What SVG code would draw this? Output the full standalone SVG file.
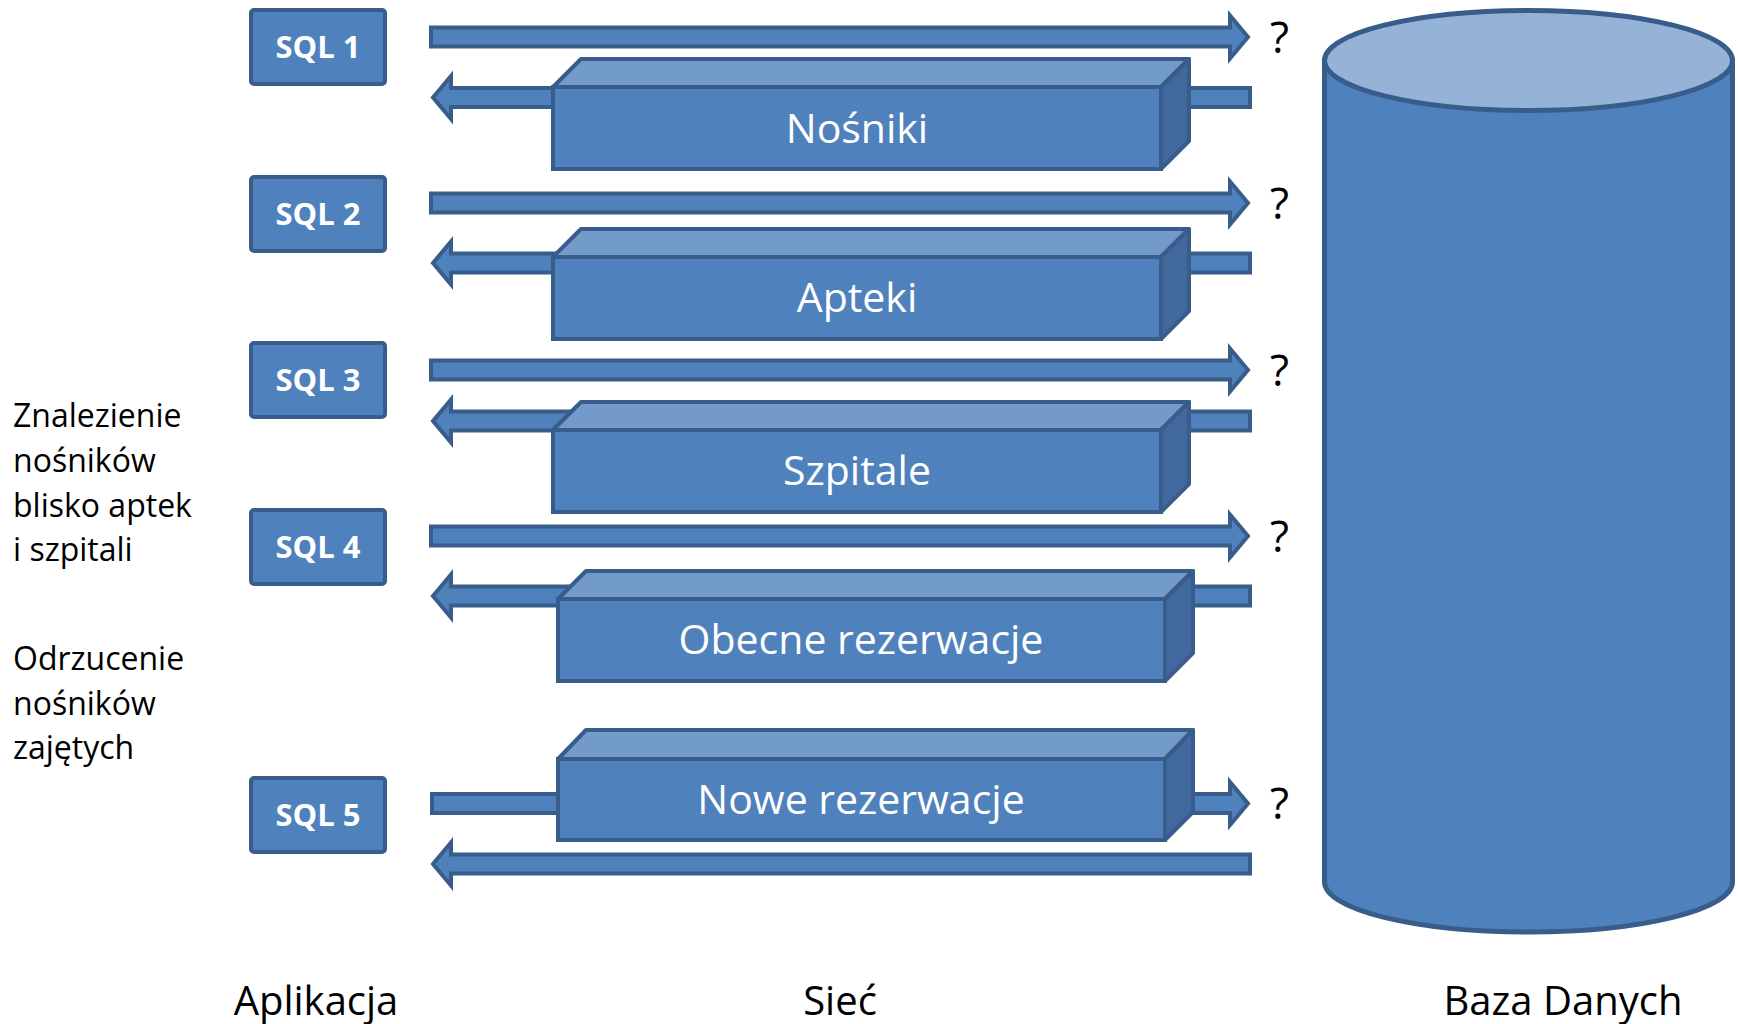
<svg xmlns="http://www.w3.org/2000/svg" width="1738" height="1024" viewBox="0 0 1738 1024">
<style>
.a{fill:#4F81BD;stroke:#385D8A;stroke-width:4;stroke-linejoin:miter}
.sq{fill:#4F81BD;stroke:#385D8A;stroke-width:4}
.top{fill:#729ACB;stroke:#385D8A;stroke-width:4;stroke-linejoin:round}
.side{fill:#41699E;stroke:#385D8A;stroke-width:4;stroke-linejoin:round}
.front{fill:#4F81BD;stroke:#385D8A;stroke-width:4}
.sqt{font-family:"Open Sans","Liberation Sans",sans-serif;font-weight:bold;font-size:31px;fill:#fff;text-anchor:middle}
.bt{font-family:"Open Sans","Liberation Sans",sans-serif;font-size:41px;fill:#fff;text-anchor:middle}
.lt{font-family:"Open Sans","Liberation Sans",sans-serif;font-size:32px;fill:#000}
.q{font-family:"Open Sans","Liberation Sans",sans-serif;font-size:44px;fill:#000}
.ft{font-family:"Open Sans","Liberation Sans",sans-serif;font-size:40px;fill:#000;text-anchor:middle}
</style>
<rect width="1738" height="1024" fill="#fff"/>

<g id="connectors">
  <!-- right arrows (requests) -->
  <polygon class="a" points="431,27.5 1230,27.5 1230,15.5 1248,37 1230,58.5 1230,46.5 431,46.5"/>
  <polygon class="a" points="431,193.5 1230,193.5 1230,181.5 1248,203 1230,224.5 1230,212.5 431,212.5"/>
  <polygon class="a" points="431,360.5 1230,360.5 1230,348.5 1248,370 1230,391.5 1230,379.5 431,379.5"/>
  <polygon class="a" points="431,526.5 1230,526.5 1230,514.5 1248,536 1230,557.5 1230,545.5 431,545.5"/>
  <!-- left arrows (responses) -->
  <polygon class="a" points="1250,88 451,88 451,76 433,97.5 451,119 451,107 1250,107"/>
  <polygon class="a" points="1250,253.5 451,253.5 451,241.5 433,263 451,284.5 451,272.5 1250,272.5"/>
  <polygon class="a" points="1250,411.5 451,411.5 451,399.5 433,421 451,442.5 451,430.5 1250,430.5"/>
  <polygon class="a" points="1250,586.5 451,586.5 451,574.5 433,596 451,617.5 451,605.5 1250,605.5"/>
  <polygon class="a" points="1250,854.5 451,854.5 451,842.5 433,864 451,885.5 451,873.5 1250,873.5"/>
  <!-- SQL 5 request through Nowe rezerwacje -->
  <polygon class="a" points="432,794 1230,794 1230,782 1248,803.5 1230,825 1230,813 432,813"/>
</g>

<g id="sql1"><rect class="sq" x="251" y="10" width="134" height="74" rx="3"/><text class="sqt" x="318" y="58">SQL 1</text></g>
<g id="sql2"><rect class="sq" x="251" y="177" width="134" height="74" rx="3"/><text class="sqt" x="318" y="225">SQL 2</text></g>
<g id="sql3"><rect class="sq" x="251" y="343" width="134" height="74" rx="3"/><text class="sqt" x="318" y="391">SQL 3</text></g>
<g id="sql4"><rect class="sq" x="251" y="510" width="134" height="74" rx="3"/><text class="sqt" x="318" y="558">SQL 4</text></g>
<g id="sql5"><rect class="sq" x="251" y="778" width="134" height="74" rx="3"/><text class="sqt" x="318" y="826">SQL 5</text></g>

<g id="nosniki">
  <polygon class="top" points="553,87 581,59 1189,59 1161,87"/>
  <polygon class="side" points="1161,87 1189,59 1189,141 1161,169"/>
  <rect class="front" x="553" y="87" width="608" height="82"/>
  <text class="bt" x="857" y="143">Nośniki</text>
</g>
<g id="apteki">
  <polygon class="top" points="553,257 581,229 1189,229 1161,257"/>
  <polygon class="side" points="1161,257 1189,229 1189,311 1161,339"/>
  <rect class="front" x="553" y="257" width="608" height="82"/>
  <text class="bt" x="857" y="312">Apteki</text>
</g>
<g id="szpitale">
  <polygon class="top" points="553,430 581,402 1189,402 1161,430"/>
  <polygon class="side" points="1161,430 1189,402 1189,484 1161,512"/>
  <rect class="front" x="553" y="430" width="608" height="82"/>
  <text class="bt" x="857" y="485">Szpitale</text>
</g>
<g id="obecne">
  <polygon class="top" points="558,599 586,571 1193,571 1165,599"/>
  <polygon class="side" points="1165,599 1193,571 1193,653 1165,681"/>
  <rect class="front" x="558" y="599" width="607" height="82"/>
  <text class="bt" x="861" y="654">Obecne rezerwacje</text>
</g>
<g id="nowe">
  <polygon class="top" points="558,759 586,730 1193,730 1165,759"/>
  <polygon class="side" points="1165,759 1193,730 1193,812 1165,840"/>
  <rect class="front" x="558" y="759" width="607" height="81"/>
  <text class="bt" x="861" y="814">Nowe rezerwacje</text>
</g>

<g id="questions">
  <text class="q" x="1270" y="53">?</text>
  <text class="q" x="1270" y="219">?</text>
  <text class="q" x="1270" y="386">?</text>
  <text class="q" x="1270" y="552">?</text>
  <text class="q" x="1270" y="819">?</text>
</g>

<g id="database">
  <path d="M1324.5,60.5 L1324.5,882 A204,50 0 0 0 1732.5,882 L1732.5,60.5 Z" fill="#4F81BD" stroke="#385D8A" stroke-width="5"/>
  <ellipse cx="1528.5" cy="60.5" rx="204" ry="50" fill="#95B3D7" stroke="#385D8A" stroke-width="5"/>
</g>

<g id="notes">
  <text class="lt" x="13" y="427">Znalezienie</text>
  <text class="lt" x="13" y="472">nośników</text>
  <text class="lt" x="13" y="517">blisko aptek</text>
  <text class="lt" x="13" y="561">i szpitali</text>
  <text class="lt" x="13" y="670">Odrzucenie</text>
  <text class="lt" x="13" y="715">nośników</text>
  <text class="lt" x="13" y="759">zajętych</text>
</g>

<g id="labels">
  <text class="ft" x="316" y="1015">Aplikacja</text>
  <text class="ft" x="840" y="1015">Sieć</text>
  <text class="ft" x="1563" y="1015">Baza Danych</text>
</g>
</svg>
